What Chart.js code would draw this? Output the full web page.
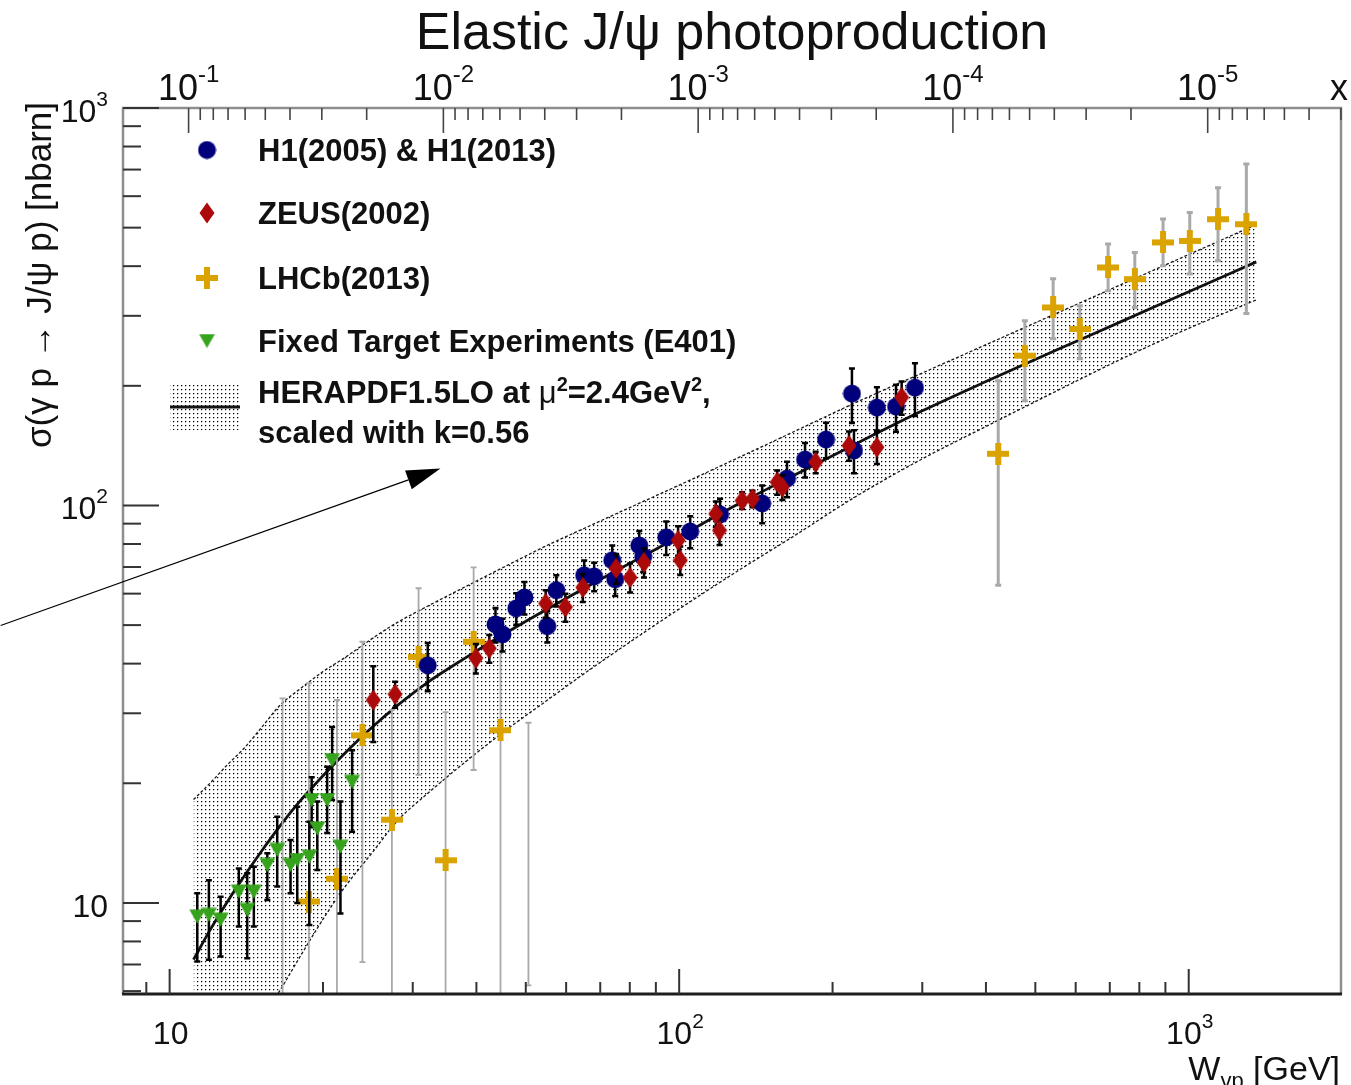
<!DOCTYPE html>
<html>
<head>
<meta charset="utf-8">
<script src="https://cdn.jsdelivr.net/npm/chart.js@4.4.1/dist/chart.umd.min.js"></script>
<style>
html,body{margin:0;padding:0;background:#fff;}
canvas{display:block;}
</style>
</head>
<body>
<canvas id="c" width="1351" height="1085"></canvas>
<script>
// ---------------- data ----------------
// HERAPDF1.5LO band (W in GeV, sigma in nb)
const bandW       = [11.14, 12, 13, 14, 15, 16.5, 18, 20, 22, 25, 28, 32, 38, 45, 55, 65, 80, 100, 130, 170, 220, 300, 400, 550, 750, 1000, 1357];
const bandCentral = [7.2, 8.54, 10.1, 11.67, 13.26, 15.67, 18.0, 20.9, 23.7, 27.7, 31.4, 35.8, 41.3, 47.2, 54.8, 61.8, 71.5, 83.5, 100.5, 120, 142, 173, 205, 246, 293, 345, 410];
const bandUpper   = [18.2, 20.0, 22.3, 24.5, 27.2, 31.5, 34.5, 38.2, 41.3, 46.3, 50.8, 55.7, 62.4, 69.7, 79.3, 87.5, 98.8, 112.5, 131.5, 154.5, 180.5, 215.4, 253.8, 304.3, 363.2, 427.9, 509];
const bandLower   = [2.9, 3.3, 3.8, 4.4, 5.0, 6.05, 7.3, 9.1, 10.9, 13.4, 16.1, 18.8, 22.6, 26.8, 32.3, 37.7, 45.3, 54.9, 68.3, 84.6, 104.5, 131, 158, 194, 236, 279, 329];

// H1 (2005) & H1 (2013)
const h1W     = [32.1, 43.6, 45.0, 47.9, 49.7, 55.1, 57.4, 65.1, 68.1, 73.9, 74.9, 83.5, 85.0, 94.3, 105.1, 120.3, 145.5, 162.8, 176.6, 194.2, 218.3, 220.3, 244.4, 266.4, 290.2];
const h1Sigma = [39.6, 50.2, 47.4, 55.1, 58.7, 49.7, 61.2, 66.7, 66.3, 72.8, 65.2, 79.3, 74.5, 83.1, 86.0, 94.9, 101.2, 116.9, 130.5, 146.5, 191.2, 137.5, 176.3, 177.3, 197.9];
const h1Err   = [5.5, 5, 4.5, 5, 5.5, 4.5, 5.5, 6, 5.5, 6.5, 6, 7, 6.5, 8, 8, 9, 11, 12, 13, 15, 30, 17, 22, 24, 30];

// ZEUS (2002)
const zeusW     = [25.1, 27.7, 39.9, 42.4, 54.7, 59.8, 64.7, 75.2, 80.1, 85.3, 99.5, 100.5, 118, 120, 132.9, 139.3, 155.7, 159.4, 185.3, 215.4, 244.4, 273.3];
const zeusSigma = [32.4, 33.5, 41.3, 43.7, 56.7, 55.5, 62.2, 69.5, 65.9, 71.9, 81.7, 72.8, 95.3, 86.5, 102.9, 103.9, 114.4, 111.2, 128.5, 141.5, 140.1, 187.1];
const zeusErr   = [7, 2.5, 3.5, 3.5, 4.5, 4.5, 5, 6, 5.5, 6, 7, 6, 7, 7, 5, 5, 8, 8, 8, 12, 13, 18];

// LHCb (2013)
const lhcbW     = [18.76, 21.3, 23.9, 27.3, 30.8, 34.8, 39.5, 44.6, 422.8, 476.9, 541.9, 611.3, 694.7, 783.8, 890.5, 1004.7, 1141.6, 1297.5];
const lhcbSigma = [10.08, 11.5, 26.4, 16.2, 41.6, 12.8, 45.4, 27.2, 134.9, 238.2, 314.9, 278, 397, 371, 459, 463, 525, 510];
const lhcbLo    = [3, 3, 7.1, 3, 21.0, 3, 21.6, 3, 63.0, 183.5, 262.8, 234, 347, 315, 401, 382, 413, 304];
const lhcbHi    = [35.7, 32.4, 45.4, 30.6, 61.9, 30.2, 69.9, 50.8, 206, 291.6, 371.8, 318, 455, 433, 526, 546, 630, 723];
// LHCb error bars drawn without a marker
const lhcbBarW  = [16.66, 50.6];
const lhcbBarLo = [3, 6.2];
const lhcbBarHi = [32.7, 28.4];

// Fixed target experiments (E401)
const ftW     = [11.33, 11.94, 12.59, 13.67, 14.2, 14.63, 15.55, 16.26, 17.27, 17.8, 18.8, 19.0, 19.49, 20.38, 20.84, 21.64, 22.81];
const ftSigma = [9.24, 9.33, 9.07, 10.67, 9.6, 10.67, 12.46, 13.59, 12.46, 12.82, 13.07, 18.15, 15.4, 18.15, 22.87, 13.85, 20.17];
const ftLo    = [7.12, 7.2, 7.33, 8.72, 7.26, 8.72, 10.17, 11.0, 10.57, 10.0, 8.8, 15.5, 12.1, 15.0, 18.15, 9.4, 15.1];
const ftHi    = [10.57, 11.4, 10.37, 12.2, 11.87, 12.33, 13.34, 16.47, 14.4, 17.45, 16.0, 20.7, 18.0, 22.0, 27.7, 18.0, 24.2];

// axes
const wRange     = [8.1, 1990];
const sigmaRange = [5.9, 1000];
const xFromW     = 11.87;            // x = xFromW / W^2 (top axis)
const wMajor     = [10, 100, 1000];
const wLabels    = [['10',''], ['10','2'], ['10','3']];
const sMajor     = [10, 100, 1000];
const sLabels    = [['10',''], ['10','2'], ['10','3']];
const xMajor     = [1e-1, 1e-2, 1e-3, 1e-4, 1e-5];
const xLabels    = [['10','-1'], ['10','-2'], ['10','-3'], ['10','-4'], ['10','-5']];

const titleText  = 'Elastic J/\u03c8 photoproduction';
const yTitleText = '\u03c3(\u03b3 p \u2192 J/\u03c8 p) [nbarn]';
const legendNames = ['H1(2005) & H1(2013)', 'ZEUS(2002)', 'LHCb(2013)', 'Fixed Target Experiments (E401)'];
const arrowFrom = [4.66, 49.9];
const arrowTo   = [34.0, 123.9];

// ---------------- styling helpers ----------------
const FONT = '"Liberation Sans", Arial, Helvetica, sans-serif';
const COL_H1 = '#00007c', COL_ZEUS = '#ac0a0a', COL_LHCB = '#dba300', COL_FT = '#36a31d';

function mk(w, h, draw) {
  const c = document.createElement('canvas'); c.width = w; c.height = h;
  draw(c.getContext('2d')); return c;
}
const mCircle = mk(19, 19, g => { g.fillStyle = COL_H1; g.beginPath(); g.arc(9.5, 9.5, 9, 0, Math.PI*2); g.fill(); });
const mDiamond = mk(16, 22, g => { g.fillStyle = COL_ZEUS; g.beginPath(); g.moveTo(8,0.5); g.lineTo(15.5,11); g.lineTo(8,21.5); g.lineTo(0.5,11); g.closePath(); g.fill(); });
const mCross = mk(22, 22, g => { g.fillStyle = COL_LHCB; g.fillRect(8, 0, 6, 22); g.fillRect(0, 8, 22, 6); });
const mTri = mk(17, 15, g => { g.fillStyle = COL_FT; g.beginPath(); g.moveTo(0.5,0.5); g.lineTo(16.5,0.5); g.lineTo(8.5,14.5); g.closePath(); g.fill(); });

const canvas = document.getElementById('c');
const ctx0 = canvas.getContext('2d');
const dotCanvas = mk(4, 4, g => {
  g.fillStyle = '#000'; g.fillRect(1,1,1,1);
  g.fillStyle = 'rgba(0,0,0,0.28)'; g.fillRect(2,1,1,1); g.fillRect(1,2,1,1);
});
const dotPattern = ctx0.createPattern(dotCanvas, 'repeat');

const pts = (xs, ys) => xs.map((x, i) => ({x: x, y: ys[i]}));

// ---------------- plugins ----------------
const errorBars = {
  id: 'errorBars',
  beforeDatasetDraw(chart, args) {
    const ds = chart.data.datasets[args.index];
    if (!ds.errLo) return;
    const {ctx, chartArea: a} = chart;
    const xs = chart.scales.x, ys = chart.scales.y;
    ctx.save();
    ctx.beginPath(); ctx.rect(a.left, a.top, a.right - a.left, a.bottom - a.top); ctx.clip();
    ctx.strokeStyle = ds.errColor; ctx.lineCap = 'butt';
    const cap = ds.errCap;
    ds.data.forEach((p, i) => {
      ctx.lineWidth = typeof ds.errWidth === 'function' ? ds.errWidth(p) : ds.errWidth;
      const px = xs.getPixelForValue(p.x);
      const y1 = ys.getPixelForValue(ds.errLo[i]);
      const y2 = ys.getPixelForValue(ds.errHi[i]);
      ctx.beginPath(); ctx.moveTo(px, y1); ctx.lineTo(px, y2);
      ctx.moveTo(px - cap, y1); ctx.lineTo(px + cap, y1);
      ctx.moveTo(px - cap, y2); ctx.lineTo(px + cap, y2);
      ctx.stroke();
    });
    ctx.restore();
  }
};

function drawPow(ctx, base, exp, x, baseline, size, align) {
  const es = Math.round(size * 0.66);
  ctx.font = size + 'px ' + FONT;
  const wb = ctx.measureText(base).width;
  ctx.font = es + 'px ' + FONT;
  const we = exp ? ctx.measureText(exp).width : 0;
  const tot = wb + we;
  const sx = align === 'center' ? x - tot/2 : (align === 'right' ? x - tot : x);
  ctx.textAlign = 'left'; ctx.textBaseline = 'alphabetic';
  ctx.font = size + 'px ' + FONT; ctx.fillText(base, sx, baseline);
  if (exp) { ctx.font = es + 'px ' + FONT; ctx.fillText(exp, sx + wb, baseline - size*0.5); }
}

function drawSegments(ctx, segs, x, baseline) {
  let cx = x;
  ctx.textAlign = 'left'; ctx.textBaseline = 'alphabetic';
  segs.forEach(s => {
    ctx.font = s.f;
    ctx.fillText(s.t, cx, baseline - (s.up || 0));
    cx += ctx.measureText(s.t).width;
  });
}

const decor = {
  id: 'decor',
  afterDatasetsDraw(chart) {
    const {ctx, chartArea: a} = chart;
    const xs = chart.scales.x, ys = chart.scales.y, x2 = chart.scales.x2;
    ctx.save();
    // frame
    ctx.strokeStyle = '#8e8e8e'; ctx.lineWidth = 2.5;
    ctx.beginPath(); ctx.moveTo(a.left, a.bottom); ctx.lineTo(a.left, a.top); ctx.lineTo(a.right, a.top); ctx.lineTo(a.right, a.bottom); ctx.stroke();
    ctx.strokeStyle = '#1e1e1e'; ctx.lineWidth = 3;
    ctx.beginPath(); ctx.moveTo(a.left - 1, a.bottom); ctx.lineTo(a.right + 1, a.bottom); ctx.stroke();

    // left ticks
    ctx.strokeStyle = '#333'; ctx.lineWidth = 2;
    for (let d = 1; d <= 1000; d *= 10) {
      for (let k = 1; k <= 9; k++) {
        const v = k * d;
        if (v < sigmaRange[0] || v > sigmaRange[1]) continue;
        const py = ys.getPixelForValue(v);
        const len = (k === 1) ? 36 : 18;
        ctx.beginPath(); ctx.moveTo(a.left, py); ctx.lineTo(a.left + len, py); ctx.stroke();
      }
    }
    // bottom ticks
    for (let d = 1; d <= 1000; d *= 10) {
      for (let k = 1; k <= 9; k++) {
        const v = k * d;
        if (v < wRange[0] || v > wRange[1]) continue;
        const px = xs.getPixelForValue(v);
        const len = (k === 1) ? 25 : 12;
        ctx.beginPath(); ctx.moveTo(px, a.bottom); ctx.lineTo(px, a.bottom - len); ctx.stroke();
      }
    }
    // top ticks (x axis)
    ctx.strokeStyle = '#444'; ctx.lineWidth = 1.6;
    const xmin = x2.min, xmax = x2.max;
    for (let e = -1; e >= -6; e--) {
      const d = Math.pow(10, e);
      for (let k = 1; k <= 9; k++) {
        const v = k * d;
        if (v < xmin || v > xmax) continue;
        const px = x2.getPixelForValue(v);
        const len = (k === 1) ? 25 : 12;
        ctx.beginPath(); ctx.moveTo(px, a.top); ctx.lineTo(px, a.top + len); ctx.stroke();
      }
    }
    ctx.restore();
  },
  afterDraw(chart) {
    const {ctx, chartArea: a} = chart;
    const xs = chart.scales.x, ys = chart.scales.y, x2 = chart.scales.x2;
    ctx.save();
    ctx.fillStyle = '#111';
    // tick labels
    wMajor.forEach((v, i) => drawPow(ctx, wLabels[i][0], wLabels[i][1], xs.getPixelForValue(v) + 1, 1044, 32, 'center'));
    sMajor.forEach((v, i) => drawPow(ctx, sLabels[i][0], sLabels[i][1], 108, ys.getPixelForValue(v) + 14, 32, 'right'));
    xMajor.forEach((v, i) => drawPow(ctx, xLabels[i][0], xLabels[i][1], x2.getPixelForValue(v), 100, 36, 'center'));
    ctx.font = '36px ' + FONT; ctx.textAlign = 'center'; ctx.fillText('x', 1339, 100);

    // title
    ctx.font = '52px ' + FONT; ctx.textAlign = 'center'; ctx.textBaseline = 'alphabetic';
    ctx.fillText(titleText, (a.left + a.right) / 2, 49);

    // x axis title  W_{γp} [GeV]
    {
      const big = '34px ' + FONT, small = '22px ' + FONT;
      ctx.font = big; const w1 = ctx.measureText('W').width;
      ctx.font = small; const w2 = ctx.measureText('\u03b3p').width;
      ctx.font = big; const w3 = ctx.measureText(' [GeV]').width;
      const x0 = 1340 - (w1 + w2 + w3);
      drawSegments(ctx, [{t:'W', f:big}, {t:'\u03b3p', f:small, up:-8}, {t:' [GeV]', f:big}], x0, 1080);
    }
    // y axis title
    ctx.save();
    ctx.translate(51, 102); ctx.rotate(-Math.PI/2);
    ctx.font = '35px ' + FONT; ctx.textAlign = 'right'; ctx.textBaseline = 'alphabetic';
    ctx.fillText(yTitleText, 0, 0);
    ctx.restore();

    // legend
    const rows = [150, 213, 278, 341];
    const marks = [mCircle, mDiamond, mCross, mTri];
    const bold = 'bold 31px ' + FONT;
    rows.forEach((ry, i) => {
      const m = marks[i];
      ctx.drawImage(m, 207 - m.width/2, ry - m.height/2);
      ctx.font = bold; ctx.textAlign = 'left'; ctx.textBaseline = 'alphabetic';
      ctx.fillText(legendNames[i], 258, ry + 11);
    });
    // band swatch
    ctx.fillStyle = dotPattern; ctx.fillRect(170, 384, 70, 46);
    ctx.strokeStyle = '#111'; ctx.lineWidth = 3;
    ctx.beginPath(); ctx.moveTo(170, 407); ctx.lineTo(240, 407); ctx.stroke();
    ctx.fillStyle = '#111';
    const sup = 'bold 20px ' + FONT;
    drawSegments(ctx, [
      {t:'HERAPDF1.5LO at ', f:bold},
      {t:'\u03bc', f:'31px ' + FONT},
      {t:'2', f:sup, up:12},
      {t:'=2.4GeV', f:bold},
      {t:'2', f:sup, up:12},
      {t:',', f:bold}
    ], 258, 403);
    ctx.font = bold; ctx.textAlign = 'left';
    ctx.fillText('scaled with k=0.56', 258, 443);

    // arrow (annotation placed in data coordinates)
    const p0 = [xs.getPixelForValue(arrowFrom[0]), ys.getPixelForValue(arrowFrom[1])];
    const p1 = [xs.getPixelForValue(arrowTo[0]), ys.getPixelForValue(arrowTo[1])];
    const dx = p1[0] - p0[0], dy = p1[1] - p0[1], L = Math.hypot(dx, dy);
    const ux = dx / L, uy = dy / L, hl = 34, hw = 10;
    const bx = p1[0] - ux*hl, by = p1[1] - uy*hl;
    ctx.strokeStyle = '#000'; ctx.lineWidth = 1.2;
    ctx.beginPath(); ctx.moveTo(p0[0], p0[1]); ctx.lineTo(bx, by); ctx.stroke();
    ctx.fillStyle = '#000';
    ctx.beginPath(); ctx.moveTo(p1[0], p1[1]); ctx.lineTo(bx - uy*hw, by + ux*hw); ctx.lineTo(bx + uy*hw, by - ux*hw); ctx.closePath(); ctx.fill();
    ctx.restore();
  }
};

// ---------------- chart ----------------
const lhcbWidth = p => (p.x > 100 ? 3 : 1.8);
const datasets = [
  { type:'line', label:'band upper', data: pts(bandW, bandUpper), borderColor:'#1a1a1a', borderWidth:1.3, borderDash:[3,2],
    pointRadius:0, fill:false, cubicInterpolationMode:'monotone', order:20 },
  { type:'line', label:'band lower', data: pts(bandW, bandLower), borderColor:'#1a1a1a', borderWidth:1.3, borderDash:[3,2],
    pointRadius:0, fill:'-1', backgroundColor: dotPattern, cubicInterpolationMode:'monotone', order:21 },
  { type:'line', label:'HERAPDF1.5LO', data: pts(bandW, bandCentral), borderColor:'#111', borderWidth:2.8,
    pointRadius:0, fill:false, cubicInterpolationMode:'monotone', order:19 },
  { type:'scatter', label:'LHCb bars', data: pts(lhcbBarW, lhcbBarLo.map((l, i) => Math.sqrt(l * lhcbBarHi[i]))), pointRadius:0,
    errLo: lhcbBarLo, errHi: lhcbBarHi, errColor:'#a9a9a9', errWidth: lhcbWidth, errCap:3, order:18 },
  { type:'scatter', label:legendNames[2], data: pts(lhcbW, lhcbSigma), pointStyle: mCross, pointRadius:6,
    errLo: lhcbLo, errHi: lhcbHi, errColor:'#a9a9a9', errWidth: lhcbWidth, errCap:3, order:17 },
  { type:'scatter', label:legendNames[0], data: pts(h1W, h1Sigma), pointStyle: mCircle, pointRadius:6,
    errLo: h1Sigma.map((s, i) => s - h1Err[i]), errHi: h1Sigma.map((s, i) => s + h1Err[i]), errColor:'#000', errWidth:2.5, errCap:3, order:16 },
  { type:'scatter', label:legendNames[1], data: pts(zeusW, zeusSigma), pointStyle: mDiamond, pointRadius:6,
    errLo: zeusSigma.map((s, i) => s - zeusErr[i]), errHi: zeusSigma.map((s, i) => s + zeusErr[i]), errColor:'#000', errWidth:2.5, errCap:3, order:15 },
  { type:'scatter', label:legendNames[3], data: pts(ftW, ftSigma), pointStyle: mTri, pointRadius:6,
    errLo: ftLo, errHi: ftHi, errColor:'#000', errWidth:2.5, errCap:3, order:14 }
];

new Chart(canvas, {
  type: 'scatter',
  data: { datasets: datasets },
  options: {
    responsive: false,
    animation: false,
    devicePixelRatio: 1,
    layout: { padding: { left: 123, right: 10, top: 108, bottom: 91 } },
    plugins: { legend: { display: false }, tooltip: { enabled: false }, title: { display: false } },
    scales: {
      x:  { type: 'logarithmic', axis: 'x', min: wRange[0], max: wRange[1], display: false },
      y:  { type: 'logarithmic', axis: 'y', min: sigmaRange[0], max: sigmaRange[1], display: false },
      x2: { type: 'logarithmic', axis: 'x', position: 'top', reverse: true, display: false,
            min: xFromW / (wRange[1] * wRange[1]), max: xFromW / (wRange[0] * wRange[0]) }
    }
  },
  plugins: [errorBars, decor]
});
</script>
</body>
</html>
